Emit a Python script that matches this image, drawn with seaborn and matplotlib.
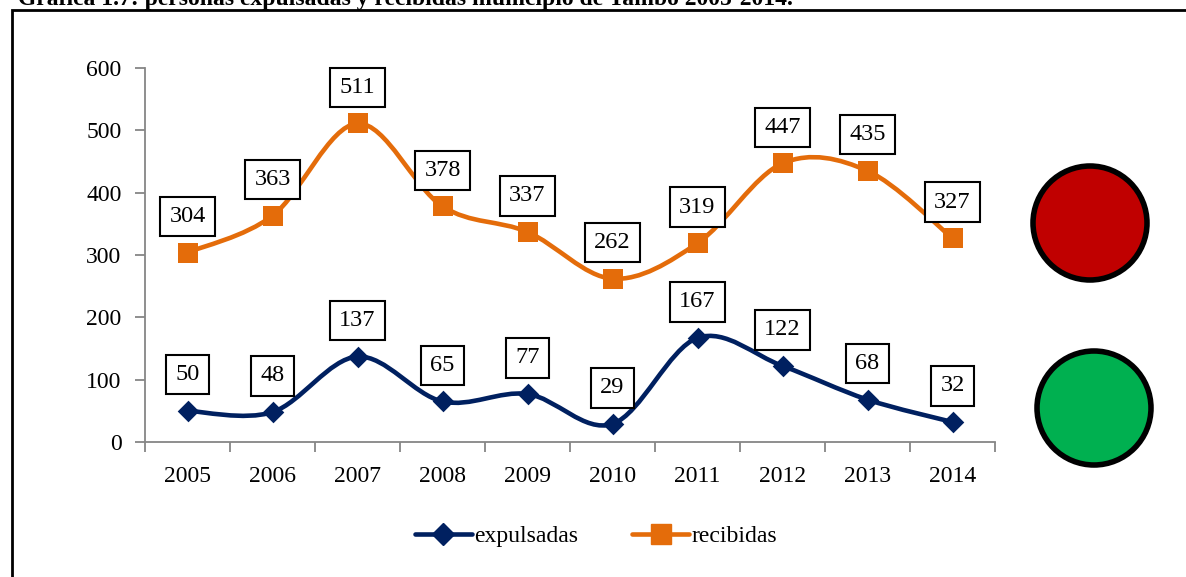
import matplotlib.pyplot as plt
import numpy as np
import seaborn as sns
from matplotlib.lines import Line2D
from matplotlib.patches import Ellipse, PathPatch, Rectangle
from matplotlib.path import Path

# chart data
years = ['2005', '2006', '2007', '2008', '2009', '2010', '2011', '2012', '2013', '2014']
expulsadas = [50, 48, 137, 65, 77, 29, 167, 122, 68, 32]
recibidas = [304, 363, 511, 378, 337, 262, 319, 447, 435, 327]
series_names = ['expulsadas', 'recibidas']
title_text = 'Gráfica 1.7: personas expulsadas y recibidas municipio de Tambo 2005-2014.'

NAVY = '#002060'
ORANGE = '#E46C0A'
SPINE = '#868686'
W, H = 1186, 577


def smooth_path(x, y):
    """Excel-like smoothed line: Bezier segments through the points."""
    pts = np.column_stack([x, y]).astype(float)
    n = len(pts)
    verts = [pts[0]]
    codes = [Path.MOVETO]
    for i in range(n - 1):
        p0 = pts[max(i - 1, 0)]
        p1 = pts[i]
        p2 = pts[i + 1]
        p3 = pts[min(i + 2, n - 1)]
        c1 = p1 + (p2 - p0) / 6.0
        c2 = p2 - (p3 - p1) / 6.0
        verts += [c1, c2, p2]
        codes += [Path.CURVE4] * 3
    return Path(verts, codes)


sns.set_style('white')
plt.rcParams['font.family'] = ['Liberation Serif', 'DejaVu Serif']
plt.rcParams['text.color'] = 'black'
plt.rcParams['xtick.color'] = 'black'
plt.rcParams['ytick.color'] = 'black'

fig = plt.figure(figsize=(W / 100, H / 100), dpi=100)
ax = fig.add_axes([145 / W, 1 - 442 / H, 850 / W, 374 / H])

x = np.arange(len(years))
for vals, color, marker, msize in [
        (expulsadas, NAVY, 'D', 11),
        (recibidas, ORANGE, 's', 14)]:
    ax.add_patch(PathPatch(smooth_path(x, vals), facecolor='none',
                           edgecolor=color, lw=3.3, capstyle='round',
                           zorder=2))
    sns.scatterplot(x=x, y=vals, ax=ax, marker=marker, s=msize ** 2,
                    color=color, edgecolor=color, linewidth=0, zorder=3,
                    legend=False)
    for xi, v in zip(x, vals):
        ax.annotate(str(v), (xi, v), xytext=(0, 26), textcoords='offset points',
                    ha='center', va='center', fontsize=17.5, color='black',
                    bbox=dict(boxstyle='square,pad=0.38', fc='white',
                              ec='black', lw=1.5),
                    zorder=4)

ax.set_xlim(-0.5, len(years) - 0.5)
ax.set_ylim(0, 600)
ax.set_yticks(range(0, 601, 100))
ax.set_xticks(x)
ax.set_xticklabels(years)
ax.set_xticks(np.arange(-0.5, len(years)), minor=True)
ax.tick_params(axis='x', which='major', bottom=False, pad=14, labelsize=17,
               labelcolor='black')
ax.tick_params(axis='x', which='minor', bottom=True, length=7, width=1.3,
               color=SPINE, direction='out')
ax.tick_params(axis='y', left=True, length=7, width=1.3, color=SPINE,
               direction='out', pad=10, labelsize=17, labelcolor='black')
for side in ['top', 'right']:
    ax.spines[side].set_visible(False)
for side in ['left', 'bottom']:
    ax.spines[side].set_color(SPINE)
    ax.spines[side].set_linewidth(1.3)
ax.set_xlabel('')
ax.set_ylabel('')

handles = [
    Line2D([], [], color=NAVY, lw=3.3, marker='D', markersize=11,
           solid_capstyle='round'),
    Line2D([], [], color=ORANGE, lw=3.3, marker='s', markersize=14,
           solid_capstyle='round'),
]
fig.legend(handles, series_names, loc='center', ncol=2,
           bbox_to_anchor=(596 / W, 1 - 536 / H), frameon=False,
           fontsize=17, handlelength=2.4, handletextpad=0.1,
           columnspacing=2.3, labelcolor='black')

# outer frame of the chart area
fig.add_artist(Rectangle((12 / W, -0.1), 1.2, (H - 10) / H + 0.1,
                         transform=fig.transFigure, fill=False,
                         ec='black', lw=2))

# traffic-light circles
for cx, cy, col in [(1090, 223, '#C00000'), (1094, 408, '#00B050')]:
    fig.add_artist(Ellipse((cx / W, 1 - cy / H), 114 / W, 114 / H,
                           transform=fig.transFigure, fc=col, ec='black',
                           lw=4))

# title cut off at the top of the picture
fig.text(18 / W, 1 - 5 / H, title_text, fontsize=17, fontweight='bold',
         ha='left', va='baseline', color='black')

fig.savefig('out.png', dpi=100)
